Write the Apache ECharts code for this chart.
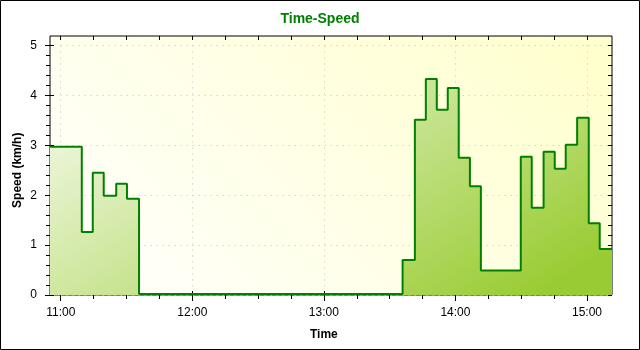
<!DOCTYPE html>
<html>
<head>
<meta charset="utf-8">
<script src="https://cdn.jsdelivr.net/npm/echarts@6/dist/echarts.min.js"></script>
<style>
html,body{margin:0;padding:0;background:#fff;}
#chart{width:640px;height:350px;}
</style>
</head>
<body>
<div id="chart"></div>
<script>
// ---- data ----
var times = ['10:55:06','11:09:36','11:14:36','11:19:36','11:25:18','11:30:12','11:35:42',
             '13:35:54','13:41:30','13:46:30','13:51:30','13:56:30','14:01:30','14:06:36','14:11:36',
             '14:29:48','14:34:48','14:40:12','14:45:18','14:50:18','14:55:30','15:00:48','15:05:48','15:11:24'];
var speeds = [2.97,1.26,2.45,1.99,2.23,1.93,0.02,
              0.70,3.51,4.33,3.71,4.15,2.75,2.18,0.49,
              2.77,1.75,2.87,2.53,3.01,3.55,1.44,0.92,0.92];
var xTickLabels = ['11:00','12:00','13:00','14:00','15:00'];
var yTickLabels = ['0','1','2','3','4','5'];
var titleText = 'Time-Speed';
var xName = 'Time';
var yName = 'Speed (km/h)';

// ---- helpers ----
function toMin(s){var p=s.split(':');return (+p[0])*60+(+p[1])+(+p[2])/60-660;}
var data = times.map(function(t,i){return [toMin(t), speeds[i]];});
var xMin = toMin(times[0]), xMax = toMin(times[times.length-1]);
var yMax = 5.19;

// plot box
var W=640,H=350, L=50, R=612, T=36, B=295;
var pxPerMin = (R-L)/(xMax-xMin);
var pxPerUnit = (B-T)/yMax;
var tickL = L + (0 - xMin)*pxPerMin;          // x of 11:00
var tickR = L + (240 - xMin)*pxPerMin;        // x of 15:00
var tickT = B - 5*pxPerUnit;                  // y of 5

var FONT = 'Liberation Sans, Arial, sans-serif';
var noLine = {show:false, onZero:false};
var tickStyle = {color:'#000', width:1};

var chart = echarts.init(document.getElementById('chart'), null, {renderer:'canvas'});
chart.setOption({
  animation:false,
  backgroundColor:'#ffffff',
  title:{text:titleText, left:'center', top:7,
    textStyle:{color:'#008000', fontWeight:'bold', fontSize:14, fontFamily:FONT}},
  graphic:[{type:'rect', shape:{x:0.5,y:0.5,width:639,height:349},
    style:{fill:'none', stroke:'#000', lineWidth:1}, z:100}],
  grid:[
    {left:L, right:W-R, top:T, bottom:H-B, show:true, borderColor:'#000', borderWidth:1,
     backgroundColor:new echarts.graphic.LinearGradient(R, T, R-410, T+410,
       [{offset:0,color:'#ffffcc'},{offset:1,color:'#ffffff'}], true)},
    {left:tickL, right:W-tickR, top:tickT, bottom:H-B},
    {left:tickL, right:W-R, top:tickT, bottom:H-B}
  ],
  xAxis:[
    {gridIndex:0, type:'value', min:xMin, max:xMax, show:false},
    {gridIndex:1, type:'value', position:'bottom', min:0, max:240, interval:60,
     axisLine:noLine,
     axisTick:{show:true, length:6, lineStyle:tickStyle},
     minorTick:{show:true, splitNumber:4, length:4, lineStyle:tickStyle},
     axisLabel:{margin:12, fontSize:12, color:'#000', fontFamily:FONT,
       formatter:function(v){var i=Math.round(v/60);return xTickLabels[i]||'';}},
     splitLine:{show:true, lineStyle:{color:'#c4c4c4', width:1, type:[1,5]}},
     name:xName, nameLocation:'middle', nameGap:34, nameMoveOverlap:false,
     nameTextStyle:{fontWeight:'bold', fontSize:12, color:'#000', fontFamily:FONT}},
    {gridIndex:1, type:'value', position:'bottom', min:0, max:240, interval:60,
     axisLine:noLine, axisLabel:{show:false}, splitLine:{show:false},
     axisTick:{show:true, inside:true, length:4, lineStyle:tickStyle}},
    {gridIndex:1, type:'value', position:'top', offset:tickT-T, min:0, max:240, interval:60,
     axisLine:noLine, axisLabel:{show:false}, splitLine:{show:false},
     axisTick:{show:true, inside:true, length:4, lineStyle:tickStyle},
     minorTick:{show:true, splitNumber:4, length:4, lineStyle:tickStyle}},
    {gridIndex:2, type:'value', min:0, max:1, show:false, axisLine:noLine}
  ],
  yAxis:[
    {gridIndex:0, type:'value', min:0, max:yMax, show:false},
    {gridIndex:1, type:'value', position:'left', offset:tickL-L, min:0, max:5, interval:1,
     axisLine:noLine,
     axisTick:{show:true, length:5, lineStyle:tickStyle},
     minorTick:{show:true, splitNumber:5, length:4, lineStyle:tickStyle},
     axisLabel:{margin:13, fontSize:12, color:'#000', fontFamily:FONT,
       formatter:function(v){return yTickLabels[Math.round(v)]||'';}},
     splitLine:{show:false},
     name:yName, nameLocation:'middle', nameGap:26, nameRotate:90, nameMoveOverlap:false,
     nameTextStyle:{fontWeight:'bold', fontSize:12, color:'#000', fontFamily:FONT}},
    {gridIndex:1, type:'value', position:'left', offset:tickL-L, min:0, max:5, interval:1,
     axisLine:noLine, axisLabel:{show:false}, splitLine:{show:false},
     axisTick:{show:true, inside:true, length:4, lineStyle:tickStyle}},
    {gridIndex:1, type:'value', position:'right', offset:R-tickR, min:0, max:5, interval:1,
     axisLine:noLine, axisLabel:{show:false}, splitLine:{show:false},
     axisTick:{show:true, inside:true, length:4, lineStyle:tickStyle},
     minorTick:{show:true, splitNumber:5, length:4, lineStyle:tickStyle}},
    {gridIndex:2, type:'value', min:0, max:5, interval:1,
     axisLine:noLine, axisTick:{show:false}, axisLabel:{show:false},
     splitLine:{show:true, lineStyle:{color:'#c4c4c4', width:1, type:[1,5]}}}
  ],
  series:[{
    type:'line', xAxisIndex:0, yAxisIndex:0, data:data, step:'end',
    showSymbol:false, symbol:'none',
    lineStyle:{color:'#008000', width:2},
    areaStyle:{opacity:1, color:new echarts.graphic.LinearGradient(L, T, L+247, T+405,
      [{offset:0,color:'#ffffff'},{offset:1,color:'#99cc33'}], true)},
    z:3
  }]
});
</script>
</body>
</html>
